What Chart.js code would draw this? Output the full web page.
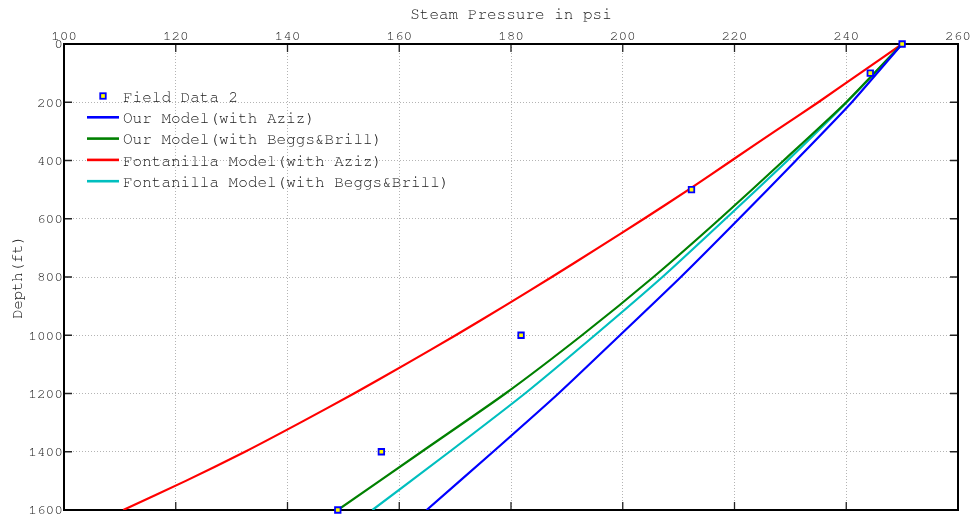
<!DOCTYPE html>
<html>
<head>
<meta charset="utf-8">
<title>Steam Pressure vs Depth</title>
<script src="https://cdn.jsdelivr.net/npm/chart.js@4.4.1/dist/chart.umd.min.js"></script>
<style>
  html, body { margin: 0; padding: 0; background: #fff; }
  canvas { display: block; }
</style>
</head>
<body>
<canvas id="pressureChart" width="974" height="525"></canvas>
<script>
// depth stations (ft)
const modelDepths = [0, 200, 400, 600, 800, 1000, 1200, 1400, 1600];
const fontanillaAzizDepths = [0, 100, 200, 300, 400, 500, 600, 700, 800, 900, 1000, 1100, 1200, 1300, 1400, 1500, 1600];

// steam pressure (psi) at each station
const ourAziz = [250, 241, 231, 220.8, 210.4, 199.5, 188.5, 176.8, 164.9];
const ourBeggsBrill = [250, 240, 228.8, 217.4, 205.5, 192.7, 179, 164, 149];
const fontanillaAziz = [250, 242.5, 235, 227.2, 219.5, 211.8, 203.8, 195.6, 187.3, 178.8, 170.1, 161.1, 151.9, 142.3, 132.4, 121.8, 110.6];
const fontanillaBeggsBrill = [250, 240.1, 229.5, 218.4, 207.1, 195, 182.5, 169, 155.2];

// measured field data
const fieldDepths = [0, 100, 500, 1000, 1400, 1600];
const fieldPressure = [250, 244.3, 212.3, 181.8, 156.8, 149];

// axis ranges
const pressureRange = [100, 260];
const pressureStep = 20;
const depthRange = [0, 1600];
const depthStep = 200;

const FONT = "'Nimbus Mono PS', 'Nimbus Mono L', 'FreeMono', 'Liberation Mono', monospace";
const TEXT_COLOR = '#1a1a1a';

function toPoints(pressures, depths) {
  return pressures.map((p, i) => ({ x: p, y: depths[i] }));
}

function curve(label, color, pressures, depths) {
  return {
    label: label,
    data: toPoints(pressures, depths),
    borderColor: color,
    backgroundColor: color,
    borderWidth: 2.2,
    pointRadius: 0,
    tension: 0.2,
    fill: false
  };
}

// box around the plot with inward tick marks on all four sides
const axisFrame = {
  id: 'axisFrame',
  beforeDatasetsDraw(chart) {
    const { ctx, chartArea: a, scales: { x, y } } = chart;
    ctx.save();
    ctx.strokeStyle = '#222';
    ctx.lineWidth = 1.3;
    ctx.beginPath();
    x.ticks.forEach(t => {
      const px = x.getPixelForValue(t.value);
      ctx.moveTo(px, a.top); ctx.lineTo(px, a.top + 8);
      ctx.moveTo(px, a.bottom); ctx.lineTo(px, a.bottom - 8);
    });
    y.ticks.forEach(t => {
      const py = y.getPixelForValue(t.value);
      ctx.moveTo(a.left, py); ctx.lineTo(a.left + 8, py);
      ctx.moveTo(a.right, py); ctx.lineTo(a.right - 8, py);
    });
    ctx.stroke();
    ctx.strokeStyle = '#000';
    ctx.lineWidth = 2;
    ctx.strokeRect(a.left, a.top, a.right - a.left, a.bottom - a.top);
    ctx.restore();
  }
};

// legend drawn inside the plot, upper left
const insideLegend = {
  id: 'insideLegend',
  afterDatasetsDraw(chart) {
    const { ctx, chartArea: a } = chart;
    const x0 = a.left + 23;
    const y0 = a.top + 52;
    const rowH = 21.3;
    ctx.save();
    ctx.font = '16px ' + FONT;
    ctx.textBaseline = 'middle';
    chart.data.datasets.forEach((ds, i) => {
      const cy = y0 + i * rowH;
      if (ds.showLine === false) {
        const s = 5.5;
        ctx.fillStyle = ds.backgroundColor;
        ctx.strokeStyle = ds.borderColor;
        ctx.lineWidth = ds.borderWidth;
        ctx.fillRect(x0 + 16 - s / 2, cy - s / 2, s, s);
        ctx.strokeRect(x0 + 16 - s / 2, cy - s / 2, s, s);
      } else {
        ctx.strokeStyle = ds.borderColor;
        ctx.lineWidth = 2.6;
        ctx.beginPath();
        ctx.moveTo(x0, cy);
        ctx.lineTo(x0 + 32, cy);
        ctx.stroke();
      }
      ctx.fillStyle = TEXT_COLOR;
      ctx.fillText(ds.label, x0 + 36, cy + 1);
    });
    ctx.restore();
  }
};

new Chart(document.getElementById('pressureChart'), {
  type: 'line',
  data: {
    datasets: [
      {
        label: 'Field Data 2',
        data: toPoints(fieldPressure, fieldDepths),
        showLine: false,
        pointStyle: 'rect',
        pointRadius: 3.9,
        pointBorderWidth: 1.8,
        borderWidth: 1.8,
        borderColor: '#0000ff',
        backgroundColor: '#ffff00',
        pointBackgroundColor: '#ffff00',
        pointBorderColor: '#0000ff',
        clip: false
      },
      curve('Our Model(with Aziz)', '#0000ff', ourAziz, modelDepths),
      curve('Our Model(with Beggs&Brill)', '#008000', ourBeggsBrill, modelDepths),
      curve('Fontanilla Model(with Aziz)', '#ff0000', fontanillaAziz, fontanillaAzizDepths),
      curve('Fontanilla Model(with Beggs&Brill)', '#00bfbf', fontanillaBeggsBrill, modelDepths)
    ]
  },
  options: {
    responsive: false,
    animation: false,
    devicePixelRatio: 1,
    layout: { padding: { top: 0, left: 0, right: 16, bottom: 15 } },
    plugins: {
      legend: { display: false },
      tooltip: { enabled: false }
    },
    scales: {
      x: {
        type: 'linear',
        position: 'top',
        min: pressureRange[0],
        max: pressureRange[1],
        afterFit(scale) { scale.height = 44; },
        ticks: {
          stepSize: pressureStep,
          padding: 0,
          maxRotation: 0,
          color: TEXT_COLOR,
          font: { family: FONT, size: 14.5 },
          callback: v => String(v)
        },
        grid: { color: '#b4b4b4', drawTicks: false },
        border: { display: false, dash: [1, 2] },
        title: {
          display: true,
          text: 'Steam Pressure in psi',
          color: TEXT_COLOR,
          font: { family: FONT, size: 16 },
          padding: { top: 5, bottom: 0 }
        }
      },
      y: {
        type: 'linear',
        reverse: true,
        min: depthRange[0],
        max: depthRange[1],
        afterFit(scale) { scale.width = 64; },
        ticks: {
          stepSize: depthStep,
          padding: 1,
          color: TEXT_COLOR,
          font: { family: FONT, size: 14.5 },
          callback: v => String(v)
        },
        grid: { color: '#b4b4b4', drawTicks: false },
        border: { display: false, dash: [1, 2] },
        title: {
          display: true,
          text: 'Depth(ft)',
          color: TEXT_COLOR,
          font: { family: FONT, size: 15.5 },
          padding: { top: 8, bottom: 0 }
        }
      }
    }
  },
  plugins: [axisFrame, insideLegend]
});
</script>
</body>
</html>
